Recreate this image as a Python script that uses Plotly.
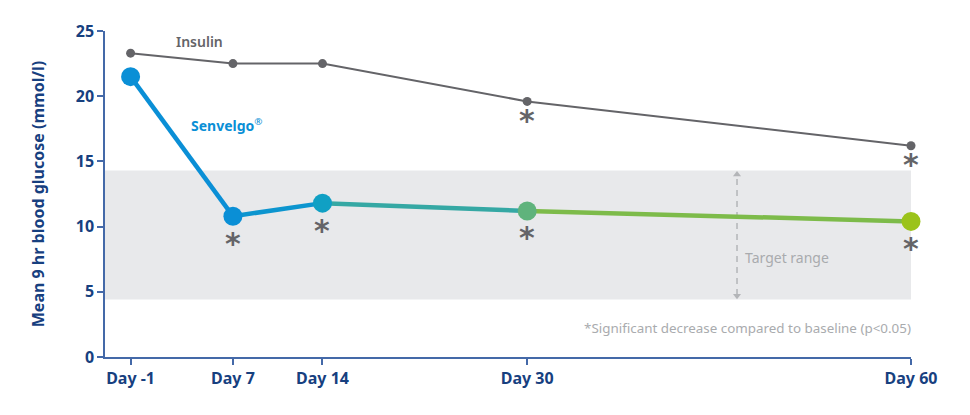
import plotly.graph_objects as go

days = [-1, 7, 14, 30, 60]
day_labels = ["Day -1", "Day 7", "Day 14", "Day 30", "Day 60"]
insulin = [23.3, 22.5, 22.5, 19.6, 16.2]
senvelgo = [21.5, 10.8, 11.8, 11.2, 10.4]
senvelgo_colors = ["#0a8fd6", "#0a8fd6", "#10a0c4", "#5fb37c", "#9bc31a"]
segment_colors = ["#0a8fd6", "#0c95cf", "#35a8a4", "#7dbb4a"]
insulin_sig = [False, False, False, True, True]
senvelgo_sig = [False, True, True, True, True]
target_low, target_high = 4.4, 14.3
target_arrow_day = 46.4

NAVY = "#17407f"
AXIS = "#4469a8"
GRAY = "#646468"
LIGHT = "#a9abae"
ARROW = "#b3b5b8"
FONT = "Noto Sans"

fig = go.Figure()

fig.add_shape(type="rect", xref="x", yref="y", x0=-3, x1=60, y0=target_low, y1=target_high,
              fillcolor="#e8e9eb", line=dict(width=0), layer="below")

# dashed target-range arrow
fig.add_shape(type="line", xref="x", yref="y", x0=target_arrow_day, x1=target_arrow_day,
              y0=target_low + 0.35, y1=target_high - 0.35,
              line=dict(color=ARROW, width=1.5, dash="6px,5px"), layer="below")
fig.add_trace(go.Scatter(x=[target_arrow_day, target_arrow_day], y=[target_high - 0.3, target_low + 0.3],
                         mode="markers", marker=dict(symbol=["triangle-up", "triangle-down"],
                                                     size=7, color=ARROW),
                         hoverinfo="skip", showlegend=False))

fig.add_trace(go.Scatter(x=days, y=insulin, mode="lines+markers", cliponaxis=False,
                         line=dict(color=GRAY, width=2),
                         marker=dict(color=GRAY, size=9), hoverinfo="skip", showlegend=False))

for i in range(len(days) - 1):
    fig.add_trace(go.Scatter(x=days[i:i + 2], y=senvelgo[i:i + 2], mode="lines", cliponaxis=False,
                             line=dict(color=segment_colors[i], width=4.5),
                             hoverinfo="skip", showlegend=False))
fig.add_trace(go.Scatter(x=days, y=senvelgo, mode="markers", cliponaxis=False,
                         marker=dict(color=senvelgo_colors, size=19),
                         hoverinfo="skip", showlegend=False))

ann = []
for d, v, s in zip(days, insulin, insulin_sig):
    if s:
        ann.append(dict(x=d, y=v, text="<b>*</b>", showarrow=False, yshift=-19,
                        font=dict(size=30, color=GRAY, family="DejaVu Sans")))
for d, v, s in zip(days, senvelgo, senvelgo_sig):
    if s:
        ann.append(dict(x=d, y=v, text="<b>*</b>", showarrow=False, yshift=-27,
                        font=dict(size=30, color=GRAY, family="DejaVu Sans")))

ann.append(dict(x=target_arrow_day, y=7.6, text="Target range", showarrow=False,
                xanchor="left", xshift=6, font=dict(size=14, color=LIGHT, family=FONT)))
ann.append(dict(x=60, y=2.2, text="*Significant decrease compared to baseline (p<0.05)",
                showarrow=False, xanchor="right", xshift=2, font=dict(size=13.4, color=LIGHT, family=FONT)))
ann.append(dict(x=2.4, y=24.2, text="Insulin", showarrow=False, xanchor="left",
                font=dict(size=14, color=GRAY, family=FONT, weight=600)))
ann.append(dict(x=3.6, y=17.8, text="<b>Senvelgo</b><sup>®</sup>", showarrow=False, xanchor="left",
                font=dict(size=14, color="#0a8fd6", family=FONT)))

# page has 8px body margin; margins compensate so plot area sits at x 105-911, y 31-357
fig.update_layout(
    width=970, height=415,
    margin=dict(l=97, r=67, t=23, b=66, autoexpand=False),
    plot_bgcolor="white", paper_bgcolor="white",
    font=dict(family=FONT, color=NAVY),
    annotations=ann,
    xaxis=dict(range=[-3, 60], tickmode="array", tickvals=days, ticktext=day_labels,
               showgrid=False, zeroline=False, showline=True, linecolor=AXIS, linewidth=1.5,
               ticks="outside", ticklen=6, tickcolor=AXIS, tickwidth=1.5, automargin=False,
               tickfont=dict(size=16, color=NAVY, family=FONT, weight="bold")),
    yaxis=dict(range=[0, 25], tickvals=[0, 5, 10, 15, 20, 25],
               showgrid=False, zeroline=False, showline=True, linecolor=AXIS, linewidth=1.5,
               ticks="outside", ticklen=6, tickcolor=AXIS, tickwidth=1.5, automargin=False,
               tickfont=dict(size=16, color=NAVY, family=FONT, weight="bold"),
               title=dict(text="Mean 9 hr blood glucose (mmol/l)", standoff=27,
                          font=dict(size=16, color=NAVY, family=FONT, weight="bold"))),
)

fig.write_html("out.html")
